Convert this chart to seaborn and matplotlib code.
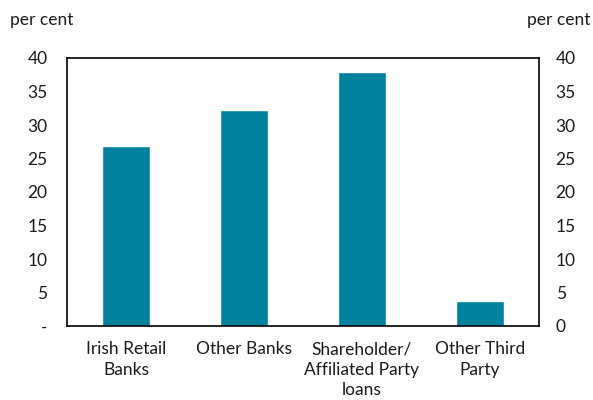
import matplotlib
matplotlib.use("Agg")
import matplotlib.pyplot as plt
import seaborn as sns
import pandas as pd

# data
categories = ["Irish Retail\nBanks", "Other Banks", "Shareholder/\nAffiliated Party\nloans", "Other Third\nParty"]
values = [26.9, 32.2, 37.9, 3.7]
yticks = [0, 5, 10, 15, 20, 25, 30, 35, 40]
left_labels = ["-", "5", "10", "15", "20", "25", "30", "35", "40"]

sns.set_style("white")
plt.rcParams["font.family"] = ["Lato", "DejaVu Sans"]
plt.rcParams["font.size"] = 12.5

df = pd.DataFrame({"category": categories, "value": values})

fig = plt.figure(figsize=(5.93, 4.0), dpi=100)
ax = fig.add_axes([67 / 593, 1 - 326 / 400, (539 - 67) / 593, (326 - 58) / 400])

sns.barplot(data=df, x="category", y="value", color="#00829F", width=0.41,
            saturation=1, ax=ax)

ax.set_ylim(0, 40)
ax.set_yticks(yticks)
ax.set_yticklabels(left_labels)
ax.set_xlabel("")
ax.set_ylabel("")
ax.tick_params(axis="both", length=0, colors="#1a1a1a", labelsize=12.5)
ax.tick_params(axis="y", pad=14)
ax.tick_params(axis="x", pad=11)
for lbl in ax.get_xticklabels():
    lbl.set_linespacing(1.35)
for s in ax.spines.values():
    s.set_visible(True)
    s.set_color("black")
    s.set_linewidth(1.2)

ax2 = ax.twinx()
ax2.set_ylim(0, 40)
ax2.set_yticks(yticks)
ax2.set_yticklabels([str(t) for t in yticks])
ax2.tick_params(axis="y", length=0, colors="#1a1a1a", labelsize=12.5, pad=12)
for s in ax2.spines.values():
    s.set_visible(False)

fig.text(10 / 593, 1 - 20 / 400, "per cent", fontsize=12.5, va="center", ha="left", color="#1a1a1a")
fig.text(590 / 593, 1 - 20 / 400, "per cent", fontsize=12.5, va="center", ha="right", color="#1a1a1a")

fig.savefig("out.png", dpi=100)
